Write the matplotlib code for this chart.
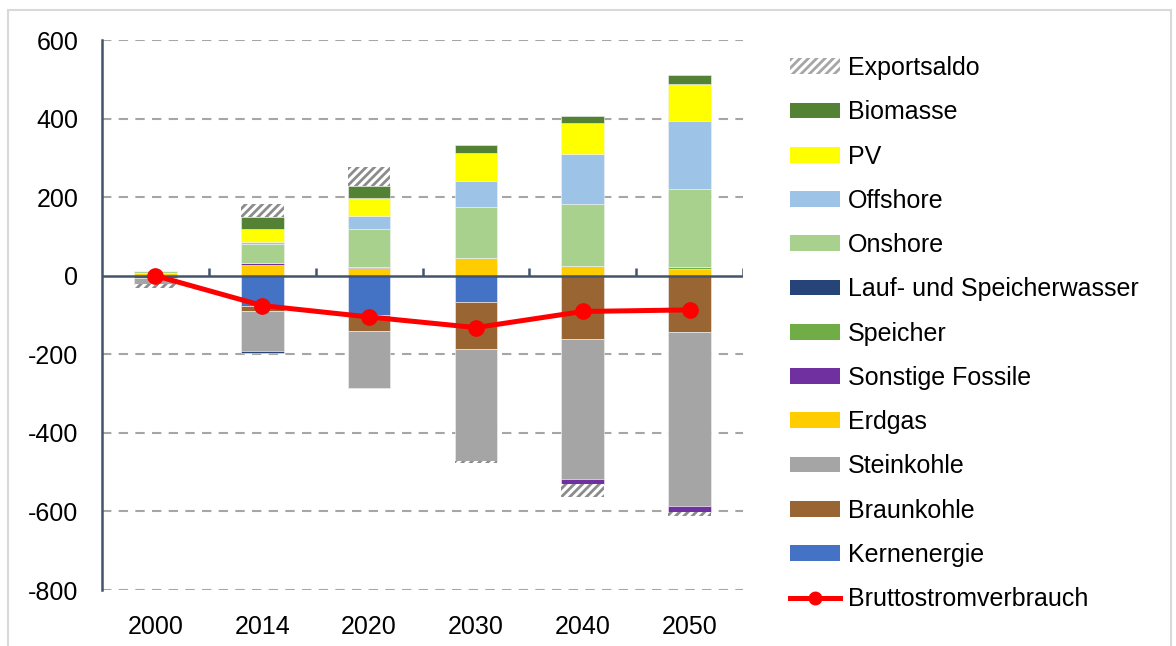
import matplotlib.pyplot as plt
from matplotlib.patches import Patch, Rectangle
from matplotlib.lines import Line2D
import numpy as np

plt.rcParams['font.family'] = ['Liberation Sans', 'DejaVu Sans']
plt.rcParams['hatch.linewidth'] = 2.0
plt.rcParams['axes.unicode_minus'] = False

years = ['2000', '2014', '2020', '2030', '2040', '2050']

# stacking order from the zero line outward (legend shows the reverse)
kernenergie = [0, -76, -99, -68, 0, 0]
braunkohle = [-7, -13, -41, -118, -161, -144]
steinkohle = [-13, -102, -145, -285, -356, -443]
erdgas = [6, 28, 19, 45, 24, 17]
sonstige_fossile = [0, 5, 4, 0, -14, -14]
speicher = [0, 0, 0, 0, 0, 5]
lauf_speicherwasser = [0, -5, 0, 0, 0, 0]
onshore = [6, 49, 97, 131, 158, 200]
offshore = [0, 3, 31, 65, 127, 171]
pv = [0, 35, 46, 72, 81, 96]
biomasse = [0, 30, 31, 21, 17, 21]
exportsaldo = [-12, 33, 48, -5, -31, -10]
bruttostromverbrauch = [0, -76, -105, -132, -91, -87]

series = [
    ('Kernenergie', kernenergie, '#4472C4'),
    ('Braunkohle', braunkohle, '#996633'),
    ('Steinkohle', steinkohle, '#A5A5A5'),
    ('Erdgas', erdgas, '#FFCC00'),
    ('Sonstige Fossile', sonstige_fossile, '#7030A0'),
    ('Speicher', speicher, '#70AD47'),
    ('Lauf- und Speicherwasser', lauf_speicherwasser, '#264478'),
    ('Onshore', onshore, '#A9D18E'),
    ('Offshore', offshore, '#9DC3E6'),
    ('PV', pv, '#FFFF00'),
    ('Biomasse', biomasse, '#548235'),
    ('Exportsaldo', exportsaldo, None),
]

fig = plt.figure(figsize=(11.76, 6.46), dpi=100)
ax = fig.add_axes([102 / 1176, 1 - 590 / 646, 641 / 1176, 550 / 646])

x = np.arange(len(years))
pos = np.zeros(len(years))
neg = np.zeros(len(years))
handles = []
for name, vals, color in series:
    v = np.array(vals, dtype=float)
    bottom = np.where(v >= 0, pos, neg)
    if color is None:
        ax.bar(x, v, 0.4, bottom=bottom, facecolor='white', edgecolor='#8C8C8C',
               hatch='////', linewidth=0, zorder=2)
        handles.append(Patch(facecolor='white', edgecolor='#A6A6A6', hatch='////',
                             linewidth=0, label=name))
    else:
        ax.bar(x, v, 0.4, bottom=bottom, color=color, edgecolor='#F2F2F2',
               linewidth=0.4, zorder=2)
        handles.append(Patch(facecolor=color, label=name))
    pos = pos + np.where(v > 0, v, 0)
    neg = neg + np.where(v < 0, v, 0)

ax.plot(x, bruttostromverbrauch, color='#FF0000', lw=3.6, marker='o', ms=11, zorder=4)

ax.set_xlim(-0.5, 5.5)
ax.set_ylim(-800, 600)
ax.set_yticks(range(-800, 601, 200))
ax.set_xticks(x)
ax.set_xticklabels(years)
for y in [600, 400, 200, -200, -400, -600, -800]:
    ax.axhline(y, color='#A6A6A6', lw=1.5, ls=(0, (4.5, 3.5)), zorder=1)
ax.axhline(0, color='#44546A', lw=1.8, zorder=3)
ax.vlines(np.arange(0.5, 6, 1), 0, 20, color='#44546A', lw=1.8, zorder=3)

for s in ['top', 'right', 'bottom']:
    ax.spines[s].set_visible(False)
ax.spines['left'].set_color('#44546A')
ax.spines['left'].set_linewidth(1.8)
ax.tick_params(axis='both', length=0, labelsize=18, colors='black')
ax.tick_params(axis='y', pad=17)
ax.tick_params(axis='x', pad=18)

handles = handles[::-1]
handles.append(Line2D([0], [0], color='#FF0000', lw=3.6, marker='o', ms=9,
                      label='Bruttostromverbrauch'))
fig.legend(handles=handles, loc='upper left', bbox_to_anchor=(780 / 1176, 1 - 46 / 646),
           frameon=False, fontsize=18, handlelength=2.0, handleheight=0.6,
           handletextpad=0.3, labelspacing=0.81, borderaxespad=0)

fig.patches.append(Rectangle((8 / 1176, -0.05), 1163 / 1176, 1.05 - 10 / 646,
                             transform=fig.transFigure, fill=False,
                             edgecolor='#D9D9D9', lw=1.5))

fig.savefig('out.png', dpi=100)
